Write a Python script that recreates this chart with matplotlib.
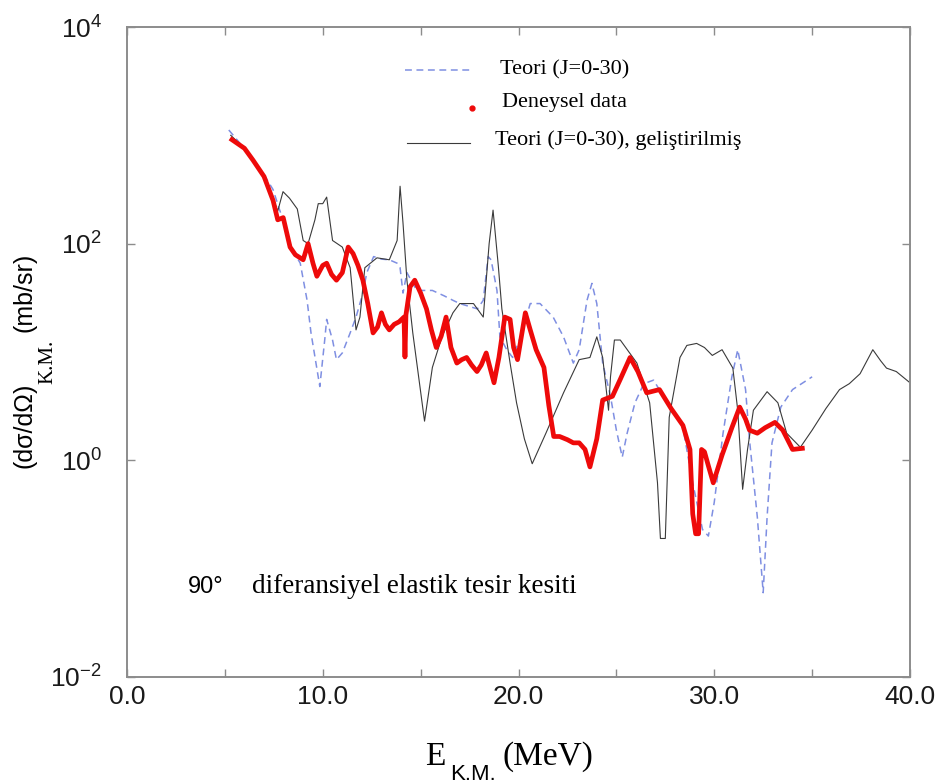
import matplotlib
matplotlib.use("Agg")
import math
import matplotlib.pyplot as plt
from matplotlib.ticker import FixedLocator, FuncFormatter

# ---- data (energy in MeV, cross-section in mb/sr) ----
exp_E = [5.36, 6.0, 6.44, 7.0, 7.46, 7.7, 7.98, 8.33, 8.6, 9.0, 9.25, 9.5, 9.7, 10.0,
         10.2, 10.45, 10.7, 11.0, 11.3, 11.55, 11.8, 12.05, 12.3, 12.57, 12.8, 13.0,
         13.2, 13.4, 13.65, 13.9, 14.15, 14.2, 14.25, 14.46, 14.7, 15.0, 15.3, 15.55,
         15.8, 16.05, 16.3, 16.55, 16.85, 17.1, 17.35, 17.6, 17.88, 18.1, 18.35, 18.55,
         18.75, 19.0, 19.3, 19.57, 19.75, 19.95, 20.15, 20.35, 20.6, 20.9, 21.3, 21.55,
         21.8, 22.1, 22.5, 22.8, 23.1, 23.4, 23.65, 24.0, 24.3, 24.8, 25.2, 25.7, 26.1,
         26.55, 27.2, 27.8, 28.4, 28.76, 28.9, 29.05, 29.2, 29.35, 29.5, 29.7, 29.95,
         30.4, 30.9, 31.3, 31.6, 31.8, 32.2, 32.6, 33.1, 33.5, 34.0, 34.5]
exp_xs = [912, 759, 589, 417, 251, 166, 174, 93, 79, 71, 100, 66, 50, 63,
          66, 52, 46, 54, 93, 81, 63, 46, 28, 15, 17, 23,
          18, 16, 18, 19, 21, 9, 22, 40, 46, 35, 25, 16,
          11, 14, 21, 11, 7.9, 8.5, 8.9, 7.6, 6.6, 7.6, 9.8, 7.1,
          5.2, 8.9, 21, 20, 11, 8.5, 14, 23, 16, 10.5, 7.2, 3.2,
          1.66, 1.66, 1.55, 1.45, 1.45, 1.26, 0.87, 1.58, 3.6, 3.9, 5.6, 8.9, 6.6,
          4.2, 4.5, 3.0, 2.1, 1.26, 0.32, 0.21, 0.21, 1.26, 1.2, 0.89, 0.62,
          1.12, 2.0, 3.1, 2.4, 1.9, 1.78, 2.0, 2.24, 1.9, 1.26, 1.29]

th_E = [5.2, 5.8, 6.44, 6.95, 7.46, 7.8, 8.1, 8.33, 8.6, 8.85, 9.2, 9.4, 9.85, 10.1,
        10.2, 10.5, 10.7, 11.0, 11.4, 11.7, 12.05, 12.25, 12.6, 13.0, 13.4, 13.8, 13.95,
        14.1, 14.3, 14.8, 15.6, 16.2, 16.65, 17.0, 17.9, 18.2, 18.45, 18.6, 18.9, 19.05,
        19.4, 19.7, 20.1, 20.6, 21.1, 21.77, 22.3, 22.8, 23.1, 23.5, 23.75, 24.0, 24.3,
        24.7, 25.0, 25.3, 25.55, 25.95, 26.4, 26.9, 27.4, 28.1, 28.4, 28.9, 29.4, 29.7,
        30.0, 30.45, 30.9, 31.2, 31.6, 31.8, 32.2, 32.5, 32.7, 32.95, 33.4, 34.0, 35.0]
th_xs = [1120, 832, 589, 447, 316, 204, 141, 100, 79, 66, 30, 15, 4.8, 12.9,
         20, 12.9, 8.5, 9.8, 15, 21, 35, 54, 76, 72, 71, 66, 60,
         35, 54, 37, 37, 33, 30, 28, 25, 30, 76, 71, 37, 13.8,
         10.5, 8.9, 13.8, 28, 28, 21, 13.8, 7.9, 10.5, 30, 43, 28, 7.9,
         3.9, 1.9, 1.07, 1.78, 3.4, 5.1, 5.5, 3.9, 2.5, 2.0, 0.62, 0.23, 0.2,
         0.41, 1.78, 5.9, 10.5, 4.5, 1.55, 0.30, 0.06, 0.30, 1.45, 3.1, 4.5, 5.9]

imp_E = [5.3, 6.0, 6.44, 7.0, 7.46, 7.7, 7.97, 8.3, 8.7, 9.0, 9.25, 9.6, 9.77, 10.0,
         10.2, 10.5, 11.0, 11.4, 11.7, 11.9, 12.15, 12.77, 13.4, 13.8, 13.95, 14.1, 14.3,
         14.6, 15.2, 15.6, 16.1, 16.65, 17.0, 17.7, 18.2, 18.5, 18.7, 18.97, 19.15, 19.57,
         19.9, 20.3, 20.7, 21.4, 22.3, 23.1, 23.65, 24.0, 24.3, 24.6, 24.7, 24.9, 25.2,
         26.05, 26.7, 27.1, 27.25, 27.5, 27.7, 28.25, 28.6, 29.1, 29.5, 29.9, 30.4, 30.95,
         31.2, 31.45, 31.7, 32.0, 32.7, 33.25, 33.7, 34.4, 35.0, 35.7, 36.4, 36.9, 37.45,
         38.1, 38.5, 38.8, 39.3, 40.0]
imp_xs = [1000, 759, 589, 417, 263, 200, 302, 263, 209, 107, 100, 166, 234, 234,
          269, 107, 93, 60, 16, 21, 60, 74, 71, 107, 339, 155, 46,
          15, 2.3, 7.2, 14, 23, 28, 28, 21, 100, 204, 62, 25, 7.9,
          3.4, 1.58, 0.93, 1.78, 4.2, 8.5, 8.9, 13.8, 8.9, 2.9, 5.9, 12.9, 12.9,
          7.9, 3.4, 0.62, 0.19, 0.19, 2.5, 8.9, 11.5, 12, 11, 9.3, 10.5, 7.1,
          2.9, 0.54, 1.26, 2.9, 4.3, 3.4, 1.78, 1.32, 1.9, 3.0, 4.5, 5.1, 6.3,
          10.5, 8.3, 7.1, 6.6, 5.2]

x_ticks = [0, 10, 20, 30, 40]
x_minor = [5, 15, 25, 35]
y_ticks = [1e-2, 1e0, 1e2, 1e4]

plt.rcParams['font.family'] = ['Liberation Sans', 'DejaVu Sans']
plt.rcParams['mathtext.fontset'] = 'custom'
plt.rcParams['mathtext.rm'] = 'Liberation Sans'

W, H = 940, 784
fig = plt.figure(figsize=(W / 100, H / 100), dpi=100)
# axes box in pixels: x 127..910, y 27..677
ax = fig.add_axes([127 / W, 1 - 677 / H, 783 / W, 650 / H])

spine_col = '#8c8c8c'
blue = '#7f8fe2'
red = '#ee0a0a'

ax.plot(th_E, th_xs, color=blue, lw=1.1, dashes=(4.5, 3))
ax.plot(imp_E, imp_xs, color='#3a3a3a', lw=0.8)
ax.plot(exp_E, exp_xs, color=red, lw=3.4, solid_joinstyle='round')

ax.set_yscale('log')
ax.set_xlim(0, 40)
ax.set_ylim(1e-2, 1e4)
ax.xaxis.set_major_locator(FixedLocator(x_ticks))
ax.xaxis.set_minor_locator(FixedLocator(x_minor))
ax.yaxis.set_major_locator(FixedLocator(y_ticks))
ax.yaxis.set_minor_locator(FixedLocator([]))
ax.xaxis.set_major_formatter(FuncFormatter(lambda v, p: '%.1f' % v))
ax.yaxis.set_major_formatter(FuncFormatter(
    lambda v, p: r'$\mathregular{10^{%d}}$' % round(math.log10(v))))

for s in ax.spines.values():
    s.set_color(spine_col)
    s.set_linewidth(1.4)
ax.tick_params(which='both', direction='in', top=True, right=True,
               length=6, width=1, color=spine_col, labelcolor='#1a1a1a')
ax.tick_params(axis='x', labelsize=19, pad=6)
ax.tick_params(axis='y', labelsize=19, pad=18)

# legend, drawn by hand (no frame)
def axx(px):
    return (px - 127) / 783

def axy(py):
    return (677 - py) / 650

tr = ax.transAxes
serif = 'Liberation Serif'
ax.plot([axx(405), axx(470)], [axy(70), axy(70)], transform=tr, color=blue,
        lw=1.1, dashes=(4.5, 3))
ax.text(axx(500), axy(70), 'Teori (J=0-30)', transform=tr, family=serif,
        fontsize=16, va='center', ha='left')
ax.plot([axx(472)], [axy(108)], transform=tr, marker='o', ms=3.5, color=red, ls='none')
ax.text(axx(502), axy(102), 'Deneysel data', transform=tr, family=serif,
        fontsize=16, va='center', ha='left')
ax.plot([axx(407), axx(470)], [axy(143), axy(143)], transform=tr, color='#3a3a3a', lw=0.8)
ax.text(axx(495), axy(140), 'Teori (J=0-30), geliştirilmiş', transform=tr,
        family=serif, fontsize=16, va='center', ha='left')

# annotation
ax.text(axx(188), axy(593), '90°', transform=tr, fontsize=17, va='baseline', ha='left')
ax.text(axx(252), axy(593), 'diferansiyel elastik tesir kesiti', transform=tr,
        family=serif, fontsize=19.5, va='baseline', ha='left')

# x label pieces
fig.text(425 / W, 1 - 765 / H, 'E', family=serif, fontsize=24, va='baseline', ha='left')
fig.text(450 / W, 1 - 780 / H, 'K.M.', fontsize=16, va='baseline', ha='left')
fig.text(503 / W, 1 - 765 / H, '(MeV)', family=serif, fontsize=24, va='baseline', ha='left')

# y label pieces
fig.text(25 / W, 1 - 425 / H, '(dσ/dΩ)', fontsize=18, rotation=90, va='center', ha='center')
fig.text(25 / W, 1 - 292 / H, '(mb/sr)', fontsize=18, rotation=90, va='center', ha='center')
fig.text(48 / W, 1 - 362 / H, 'K.M.', family=serif, fontsize=15, rotation=90,
         va='center', ha='center')

fig.savefig('out.png', dpi=100)
